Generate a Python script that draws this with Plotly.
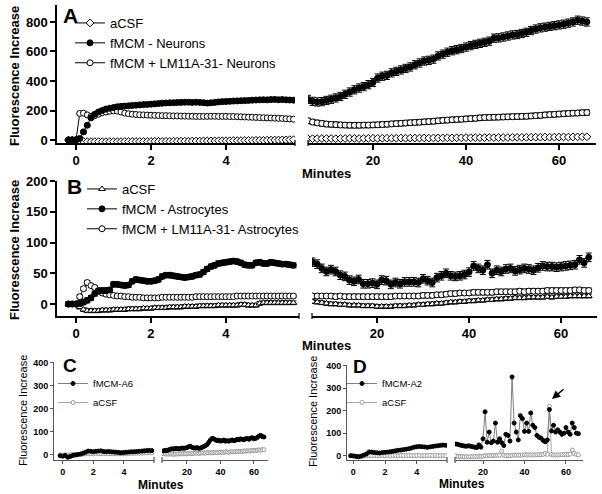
import numpy as np
import plotly.graph_objects as go

W, H = 602, 494
FONT = "Arial, Liberation Sans, Helvetica, sans-serif"

# ---------------- sample times (minutes) ----------------
t_left = np.round(np.arange(-0.2, 5.85, 0.1), 2)          # panels A, B (first 6 min)
t_right = np.arange(6, 67)                                  # panels A-D (6-66 min)
t_left_small = np.round(np.arange(-1, 36) / 6, 3)          # panels C, D (first 6 min)

left_ticks = [0, 2, 4]
right_ticks = [20, 40, 60]
ticks_A = [0, 200, 400, 600, 800]
ticks_B = [0, 50, 100, 150, 200]
ticks_CD = [0, 100, 200, 300, 400]

# ---------------- Panel A: neurons ----------------
A_acsf_L = [0, 0, 0, -8, -10, -11, -11, -11, -11, -11,
            -11, -11, -11, -11, -11, -10, -10, -10, -10, -10,
            -10, -10, -10, -9, -9, -9, -9, -9, -8, -8,
            -8, -8, -8, -7, -7, -7, -6, -6, -6, -6,
            -5, -5, -5, -5, -4, -4, -4, -3, -3, -3,
            -2, -2, -2, -1, -1, 0, 0, 1, 1, 2, 2]
A_neur_L = [0, 0, 2, 10, 55, 100, 150, 175, 190, 200,
            210, 215, 220, 225, 228, 230, 232, 234, 236, 238,
            240, 241, 243, 245, 247, 249, 251, 252, 253, 254,
            255, 256, 256, 255, 256, 255, 253, 250, 252, 255,
            258, 260, 261, 262, 264, 265, 266, 267, 268, 270,
            271, 272, 273, 272, 274, 275, 273, 274, 272, 271, 270]
A_lm_L = [0, 0, 0, 180, 182, 170, 160, 165, 175, 185,
          190, 195, 198, 196, 190, 182, 178, 175, 173, 171,
          170, 169, 168, 167, 166, 165, 165, 164, 163, 163,
          162, 162, 161, 161, 160, 160, 160, 160, 161, 161,
          160, 160, 160, 159, 159, 158, 157, 156, 155, 154,
          153, 152, 151, 150, 149, 148, 147, 146, 144, 143, 141]
A_acsf_R = [8, 9, 9, 10, 10, 10, 9, 10, 10, 11,
            11, 10, 11, 11, 12, 11, 12, 12, 12, 12,
            13, 12, 13, 13, 13, 14, 13, 14, 14, 14,
            15, 14, 15, 15, 16, 15, 16, 16, 16, 17,
            16, 17, 17, 17, 18, 18, 18, 18, 19, 19,
            19, 20, 19, 20, 20, 21, 20, 21, 21, 22, 22]
A_neur_R = [275, 262, 258, 260, 268, 276, 285, 295, 310, 325,
            340, 352, 362, 375, 390, 420, 432, 438, 455, 465,
            475, 485, 495, 510, 522, 535, 540, 548, 570, 582,
            595, 605, 612, 620, 630, 640, 648, 655, 662, 670,
            690, 692, 698, 705, 712, 715, 722, 730, 742, 752,
            760, 765, 770, 775, 780, 785, 792, 800, 812, 806, 800]
A_lm_R = [130, 122, 116, 112, 108, 106, 104, 102, 101, 100,
          100, 100, 101, 101, 102, 103, 105, 107, 109, 111,
          113, 115, 117, 119, 121, 123, 125, 127, 130, 133,
          135, 137, 139, 141, 143, 145, 147, 150, 152, 153,
          154, 155, 156, 157, 158, 159, 160, 161, 163, 165,
          167, 170, 172, 174, 176, 178, 180, 182, 183, 185, 186]
A_err = {"acsf": 8, "neur_L": 10, "neur_R": 28, "lm_L": 8, "lm_R": 18}

# ---------------- Panel B: astrocytes ----------------
B_acsf_L = [0, 0, 0, -5, -9, -11, -11, -11, -11, -10,
            -10, -10, -9, -9, -9, -9, -8, -8, -8, -8,
            -7, -7, -7, -6, -6, -6, -6, -5, -5, -5,
            -5, -4, -4, -4, -4, -3, -3, -3, -3, -3,
            -2, -2, -2, -2, -2, -2, -1, -1, -2, -2,
            -2, 1, 2, 2, 2, 2, 2, 2, 2, 2, 2]
B_ast_L = [0, 0, 0, 1, 3, 6, 10, 17, 21, 22,
           22, 23, 32, 32, 31, 30, 31, 37, 40, 39,
           38, 37, 37, 38, 40, 45, 47, 47, 46, 45,
           44, 43, 44, 45, 47, 48, 52, 57, 61, 63,
           66, 67, 68, 69, 70, 69, 67, 64, 63, 63,
           67, 68, 66, 66, 68, 67, 66, 65, 65, 64, 63]
B_lm_L = [0, 0, 0, 12, 25, 35, 30, 27, 22, 18,
          16, 15, 14, 13, 13, 12, 12, 11, 11, 11,
          10, 10, 10, 10, 10, 11, 11, 11, 11, 11,
          11, 11, 11, 11, 12, 12, 12, 12, 12, 12,
          12, 12, 12, 12, 12, 13, 13, 13, 13, 13,
          13, 13, 13, 13, 13, 13, 13, 13, 13, 13, 13]
B_acsf_R = [4, 3, 2, 1, 0, 0, -1, -1, -2, -2,
            -2, -3, -3, -3, -4, -4, -4, -4, -3, -3,
            -3, -2, -2, -1, -1, 0, 0, 1, 1, 2,
            3, 3, 4, 4, 5, 5, 6, 6, 7, 7,
            8, 8, 9, 9, 10, 10, 10, 11, 11, 11,
            11, 12, 11, 12, 12, 12, 13, 13, 13, 13, 13]
B_ast_R = [68, 65, 58, 53, 56, 53, 47, 45, 39, 37,
           40, 33, 33, 34, 32, 39, 38, 32, 35, 33,
           36, 36, 36, 35, 41, 38, 35, 43, 46, 50,
           46, 45, 46, 48, 52, 62, 58, 55, 64, 50,
           55, 53, 57, 58, 54, 56, 58, 57, 55, 59,
           62, 61, 61, 60, 61, 62, 63, 64, 72, 67, 76]
B_lm_R = [13, 13, 13, 13, 13, 12, 13, 12, 12, 12,
          12, 12, 12, 12, 12, 12, 12, 12, 13, 13,
          13, 13, 13, 13, 14, 14, 14, 15, 15, 16,
          17, 17, 18, 18, 18, 19, 19, 19, 19, 19,
          20, 20, 20, 20, 20, 21, 20, 21, 21, 21,
          21, 22, 22, 22, 22, 22, 22, 23, 23, 22, 22]
B_err = {"acsf": 3, "ast_L": 4, "ast_R": 7, "lm_L": 3, "lm_R": 4}

# ---------------- Panel C: fMCM-A6 ----------------
C_a6_L = [-3, -5, -2, -10, -6, -2, 0, 2,
          4, 8, 12, 17, 16, 14,
          16, 17, 18, 15, 14, 15,
          14, 13, 12, 11, 10, 11,
          12, 13, 14, 14, 15, 16,
          17, 18, 19, 20, 19]
C_acsf_L = [0, 0, 1, 0, 1, 2, 2, 3,
            3, 4, 5, 6, 6, 6,
            7, 6, 6, 6, 5, 6,
            6, 5, 5, 5, 6, 6,
            6, 7, 7, 7, 8, 8,
            8, 9, 9, 10, 10]
C_a6_R = [18, 20, 20, 22, 25, 27, 26, 28, 28, 27,
          28, 30, 29, 30, 32, 36, 38, 33, 31, 30,
          32, 29, 30, 33, 37, 40, 45, 55, 65, 72,
          70, 66, 62, 64, 60, 62, 65, 60, 62, 60,
          63, 65, 62, 64, 68, 66, 70, 68, 66, 70,
          72, 68, 73, 75, 70, 72, 76, 82, 85, 80, 78]
C_acsf_R = [5, 5, 4, 4, 5, 4, 3, 4, 4, 5,
            5, 5, 6, 6, 6, 7, 7, 6, 7, 8,
            8, 7, 8, 9, 9, 8, 10, 10, 9, 10,
            11, 11, 10, 12, 12, 11, 12, 13, 13, 12,
            14, 14, 13, 15, 15, 16, 15, 16, 17, 17,
            18, 17, 19, 19, 20, 19, 21, 22, 21, 23, 23]

# ---------------- Panel D: fMCM-A2 ----------------
D_a2_L = [0, -1, -3, -5, -2, 3, 8, 17,
          16, 14, 13, 12, 14, 15,
          16, 18, 20, 22, 24, 25,
          27, 29, 31, 34, 38, 40,
          41, 40, 39, 37, 39, 41,
          43, 44, 46, 47, 46]
D_acsf_L = [0, -1, -2, -3, -2, -1, 0, 1,
            0, 1, 0, 1, 1, 0,
            1, 0, 1, 1, 0, 1,
            1, 0, 1, 1, 0, 1,
            1, 0, 0, 1, 1, 0,
            1, 1, 0, 1, 0]
D_a2_R = [53, 52, 50, 47, 45, 43, 42, 44, 42, 40,
          38, 36, 48, 38, 75, 195, 60, 105, 58, 65,
          145, 60, 75, 58, 45, 95, 90, 65, 350, 145,
          105, 70, 178, 165, 108, 145, 108, 190, 135, 125,
          90, 82, 78, 68, 62, 70, 205, 110, 135, 105,
          115, 105, 95, 100, 125, 105, 95, 145, 125, 100, 98]
D_acsf_R = [-2, -1, -3, -4, -3, -5, -4, -5, -4, -5,
            -3, -4, -2, -3, -2, 0, -1, 1, 0, 2,
            1, 2, 3, 20, 2, -1, 1, 0, 2, 3,
            2, 3, 2, 3, 4, 3, 4, 3, 4, 3,
            4, 5, 4, 6, 10, 6, 220, 5, 3, 4,
            3, 4, 5, 4, 6, 5, 7, 25, 10, 6, 4]

for arr in (A_acsf_L, A_neur_L, A_lm_L, B_acsf_L, B_ast_L, B_lm_L):
    assert len(arr) == len(t_left), len(arr)
for arr in (A_acsf_R, A_neur_R, A_lm_R, B_acsf_R, B_ast_R, B_lm_R, C_a6_R, C_acsf_R, D_a2_R, D_acsf_R):
    assert len(arr) == len(t_right), len(arr)
for arr in (C_a6_L, C_acsf_L, D_a2_L, D_acsf_L):
    assert len(arr) == len(t_left_small), len(arr)


def px(x):
    return x / W


def py(y):
    return 1 - y / H


fig = go.Figure()


def series(xa, ya, x, y, name, legend, show, rank, sym, edge, fill, size, lcolor, err=None):
    fig.add_trace(go.Scatter(
        x=x, y=y, mode="lines+markers", name=name,
        legend=legend, showlegend=show, legendrank=rank,
        xaxis=xa, yaxis=ya,
        marker=dict(symbol=sym, size=size, color=fill, line=dict(color=edge, width=1)),
        line=dict(color=lcolor, width=1),
        error_y=dict(type="constant", value=err or 0, color="black", thickness=1, width=3,
                     visible=bool(err)),
        hoverinfo="skip"))


MS = 6
MS_SMALL = 4
# Panel A
for xa, t, ac, ne, lm, eN, eL in (("x", t_left, A_acsf_L, A_neur_L, A_lm_L, A_err["neur_L"], A_err["lm_L"]),
                                  ("x2", t_right, A_acsf_R, A_neur_R, A_lm_R, A_err["neur_R"], A_err["lm_R"])):
    show = xa == "x"
    series(xa, "y", t, ac, "aCSF", "legend", show, 1, "diamond", "black", "white", MS, "black", A_err["acsf"])
    series(xa, "y", t, lm, "fMCM + LM11A-31- Neurons", "legend", show, 3, "circle", "black", "white", MS, "black", eL)
    series(xa, "y", t, ne, "fMCM - Neurons", "legend", show, 2, "circle", "black", "black", MS, "black", eN)

# Panel B
for xa, t, ac, asx, lm, eA, eL in (("x3", t_left, B_acsf_L, B_ast_L, B_lm_L, B_err["ast_L"], B_err["lm_L"]),
                                   ("x4", t_right, B_acsf_R, B_ast_R, B_lm_R, B_err["ast_R"], B_err["lm_R"])):
    show = xa == "x3"
    series(xa, "y2", t, ac, "aCSF", "legend2", show, 1, "triangle-up", "black", "white", MS, "black", B_err["acsf"])
    series(xa, "y2", t, lm, "fMCM + LM11A-31- Astrocytes", "legend2", show, 3, "circle", "black", "white", MS, "black", eL)
    series(xa, "y2", t, asx, "fMCM - Astrocytes", "legend2", show, 2, "circle", "black", "black", MS, "black", eA)

# Panel C
for xa, t, a6, ac in (("x5", t_left_small, C_a6_L, C_acsf_L), ("x6", t_right, C_a6_R, C_acsf_R)):
    show = xa == "x5"
    series(xa, "y3", t, ac, "aCSF", "legend3", show, 2, "circle", "#9a9a9a", "white", MS_SMALL, "#a8a8a8")
    series(xa, "y3", t, a6, "fMCM-A6", "legend3", show, 1, "circle", "black", "black", MS_SMALL, "#808080")

# Panel D
for xa, t, a2, ac in (("x7", t_left_small, D_a2_L, D_acsf_L), ("x8", t_right, D_a2_R, D_acsf_R)):
    show = xa == "x7"
    series(xa, "y4", t, ac, "aCSF", "legend4", show, 2, "circle", "#9a9a9a", "white", MS_SMALL, "#a8a8a8")
    series(xa, "y4", t, a2, "fMCM-A2", "legend4", show, 1, "circle", "black", "black", MS_SMALL, "#808080")


def xax(dom, rng, ticks, anchor, big=True):
    return dict(domain=[px(dom[0]), px(dom[1])], range=rng, tickvals=ticks, anchor=anchor,
                showline=True, linecolor="black" if big else "#555555", linewidth=1.5 if big else 1,
                ticks="outside", ticklen=5 if big else 3, tickwidth=1.5 if big else 1,
                tickcolor="black" if big else "#555555", automargin=False,
                showgrid=False, zeroline=False, fixedrange=True,
                tickfont=dict(family=FONT, size=13 if big else 9, color="black", weight="bold"))


def yax(top, bot, rng, ticks, anchor, big=True):
    d = xax((0, 1), rng, ticks, anchor, big)
    d["domain"] = [py(bot), py(top)]
    return d


fig.update_layout(
    xaxis=xax((57, 295), [-0.507, 5.84], left_ticks, "y"),
    xaxis2=xax((308, 596), [6.02, 67.96], right_ticks, "y"),
    yaxis=yax(5, 143, [-20.3, 915], ticks_A, "x"),
    xaxis3=xax((57, 299), [-0.507, 5.95], left_ticks, "y2"),
    xaxis4=xax((312, 597), [5.87, 67.8], right_ticks, "y2"),
    yaxis2=yax(181, 316, [-19.5, 200.3], ticks_B, "x3"),
    xaxis5=xax((54, 154), [-0.57, 5.97], left_ticks, "y3", False),
    xaxis6=xax((162, 268), [5.07, 68.4], right_ticks, "y3", False),
    yaxis3=yax(362, 460, [-21.7, 403], ticks_CD, "x5", False),
    xaxis7=xax((347, 447), [-0.4, 5.91], left_ticks, "y4", False),
    xaxis8=xax((455, 583), [6.5, 68.2], right_ticks, "y4", False),
    yaxis4=yax(365, 460, [-19.1, 403], ticks_CD, "x7", False),
)

leg = dict(xanchor="left", yanchor="top", bgcolor="rgba(0,0,0,0)", borderwidth=0, itemwidth=30,
           tracegroupgap=0, itemclick=False, itemdoubleclick=False)
fig.update_layout(
    legend=dict(leg, x=px(70), y=py(8), font=dict(family=FONT, size=13, color="black")),
    legend2=dict(leg, x=px(82), y=py(174), font=dict(family=FONT, size=13, color="black")),
    legend3=dict(leg, x=px(53), y=py(369), font=dict(family=FONT, size=9.5, color="black")),
    legend4=dict(leg, x=px(342), y=py(369), font=dict(family=FONT, size=9.5, color="black")),
)

ann = []


def text(x, y, s, size, bold=True, angle=0):
    ann.append(dict(x=px(x), y=py(y), xref="paper", yref="paper", text=f"<b>{s}</b>" if bold else s,
                    showarrow=False, textangle=angle, xanchor="center", yanchor="middle",
                    font=dict(family=FONT, size=size, color="black")))


text(14, 76, "Fluorescence Increase", 13, True, -90)
text(14, 250, "Fluorescence Increase", 13, True, -90)
text(23, 411, "Fluorescence Increase", 11, False, -90)
text(313, 412, "Fluorescence Increase", 11, False, -90)
text(327, 173, "Minutes", 13)
text(327, 345, "Minutes", 13)
text(161, 485, "Minutes", 12)
text(462, 484, "Minutes", 12)
text(70, 15, "A", 21)
text(74, 187, "B", 21)
text(70, 365, "C", 19)
text(360, 366, "D", 19)
ann.append(dict(x=px(552), y=py(399), xref="paper", yref="paper", text="", showarrow=True,
                ax=13, ay=-11, arrowhead=2, arrowsize=1.1, arrowwidth=1.5, arrowcolor="black", standoff=0))

shapes = []
for xb, yb, c in ((295, 143, "black"), (308, 143, "black"), (299, 316, "black"), (312, 316, "black"),
                  (154, 460, "#555555"), (162, 460, "#555555"), (447, 460, "#555555"), (455, 460, "#555555")):
    shapes.append(dict(type="line", xref="paper", yref="paper", x0=px(xb), x1=px(xb),
                       y0=py(yb - 3), y1=py(yb + 3), line=dict(color=c, width=1.2)))

fig.update_layout(annotations=ann, shapes=shapes, width=W, height=H,
                  margin=dict(l=0, r=0, t=0, b=0, autoexpand=False), paper_bgcolor="white",
                  plot_bgcolor="white", hovermode=False, font=dict(family=FONT, color="black"))

fig.write_html("out.html", config={"displayModeBar": False},
               post_script="document.body.style.margin='0';document.body.style.overflow='hidden';")
